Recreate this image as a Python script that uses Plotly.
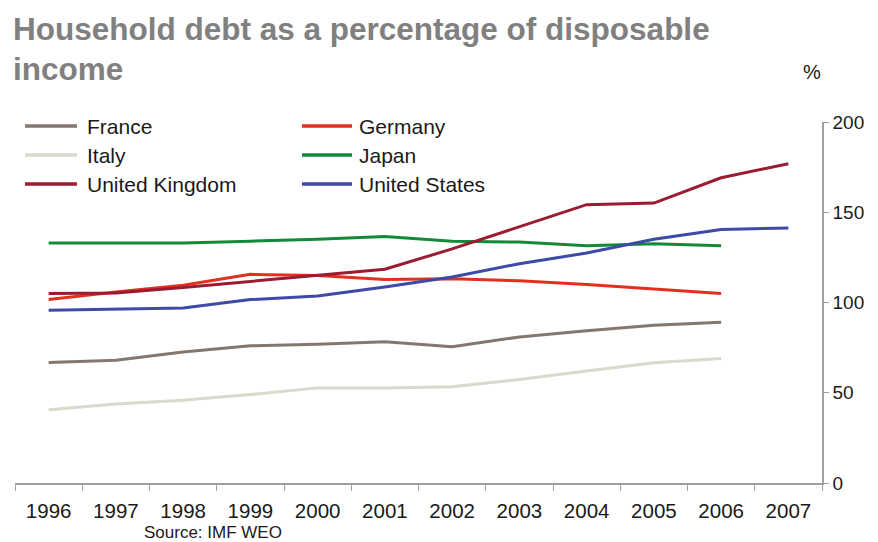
import plotly.graph_objects as go

# Household debt, % of disposable income (IMF WEO)
years = ["1996", "1997", "1998", "1999", "2000", "2001",
         "2002", "2003", "2004", "2005", "2006", "2007"]
france = [66.8, 68.0, 72.6, 76.0, 76.9, 78.2, 75.5, 80.9, 84.3, 87.4, 89.0, None]
germany = [101.6, 105.8, 109.5, 115.6, 115.0, 112.7, 113.2, 112.0, 110.0, 107.7, 105.0, None]
italy = [40.6, 43.7, 45.9, 49.0, 52.7, 52.7, 53.3, 57.4, 62.1, 66.6, 69.0, None]
japan = [133.0, 133.0, 133.0, 134.0, 135.0, 136.5, 134.0, 133.5, 131.5, 132.5, 131.5, None]
uk = [105.0, 105.3, 108.3, 111.8, 115.0, 118.4, 129.7, 142.0, 154.2, 155.1, 169.1, 176.9]
us = [95.7, 96.3, 97.0, 101.6, 103.6, 108.6, 114.1, 121.5, 127.4, 135.0, 140.5, 141.3]

names = ["France", "Germany", "Italy", "Japan", "United Kingdom", "United States"]
values = [france, germany, italy, japan, uk, us]
colors = ["#857770", "#e2301f", "#d9d9cc", "#138a3a", "#9b1b32", "#3d4aa6"]

title_lines = ["Household debt as a percentage of disposable", "income"]

W, H = 878, 542
ML, MR, MT, MB = 15, 56, 122, 59
PW, PH = W - ML - MR, H - MT - MB
FONT = "Arial, Liberation Sans, sans-serif"


def px_x(x):
    return (x - ML) / PW


def px_y(y):
    return (H - MB - y) / PH


fig = go.Figure()
for name, vals, col in zip(names, values, colors):
    fig.add_trace(go.Scatter(
        x=years, y=vals, name=name, mode="lines",
        line=dict(color=col, width=3), showlegend=False,
    ))

shapes = []
annotations = []

# Title, two lines
for text, yy in zip(title_lines, [29, 69]):
    annotations.append(dict(text="<b>" + text + "</b>", xref="paper", yref="paper",
                            x=px_x(11), y=px_y(yy), xanchor="left", yanchor="middle",
                            showarrow=False,
                            font=dict(size=31.5, color="#808080", family=FONT)))

# Two-column legend
col_x = [(25, 77, 85), (302, 352, 357)]
row_y = [126, 155, 184]
for i, (name, col) in enumerate(zip(names, colors)):
    x0, x1, xt = col_x[i % 2]
    yy = row_y[i // 2]
    shapes.append(dict(type="line", xref="paper", yref="paper",
                       x0=px_x(x0), x1=px_x(x1), y0=px_y(yy), y1=px_y(yy),
                       line=dict(color=col, width=3.5)))
    annotations.append(dict(text=name, xref="paper", yref="paper",
                            x=px_x(xt), y=px_y(yy), xanchor="left", yanchor="middle",
                            showarrow=False, font=dict(size=21, color="#1a1a1a", family=FONT)))

annotations.append(dict(text="%", xref="paper", yref="paper", x=px_x(812), y=px_y(72),
                        xanchor="center", yanchor="middle", showarrow=False,
                        font=dict(size=20, color="#1a1a1a", family=FONT)))
annotations.append(dict(text="Source: IMF WEO", xref="paper", yref="paper",
                        x=px_x(142), y=px_y(532), xanchor="left", yanchor="middle",
                        showarrow=False, font=dict(size=17, color="#1a1a1a", family=FONT)))

fig.update_layout(
    width=W, height=H,
    margin=dict(l=ML, r=MR, t=MT, b=MB),
    paper_bgcolor="white", plot_bgcolor="white",
    shapes=shapes,
    annotations=annotations,
)

fig.update_xaxes(
    type="category", range=[-0.5, 11.5],
    tickson="boundaries", ticks="outside", ticklen=6, tickcolor="#a0a0a0",
    showline=True, linecolor="#a0a0a0", linewidth=1.5,
    showgrid=False, zeroline=False,
    tickfont=dict(size=20.5, color="#1a1a1a", family=FONT),
    ticklabelstandoff=9,
)
fig.update_yaxes(
    side="right", range=[0, 200], dtick=50,
    ticks="outside", ticklen=5, tickcolor="#a0a0a0",
    showline=True, linecolor="#a0a0a0", linewidth=1.5,
    showgrid=False, zeroline=False,
    tickfont=dict(size=19, color="#1a1a1a", family=FONT),
)

fig.write_html("out.html")
